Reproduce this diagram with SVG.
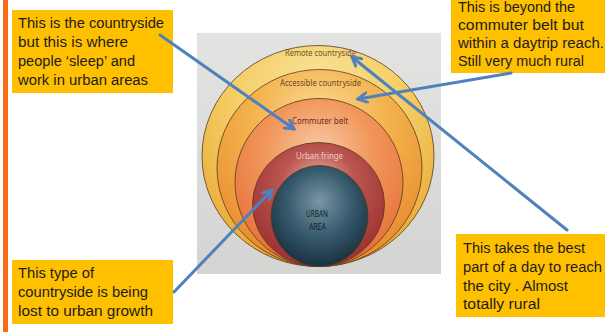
<svg xmlns="http://www.w3.org/2000/svg" width="605" height="332" viewBox="0 0 605 332">
  <style>
    .box { fill: #FFC000; }
    .note { font-family: "Liberation Sans", Arial, sans-serif; font-size: 14px; fill: #1c1c1c; }
    .ring { stroke: #5a3a22; stroke-width: 0.8; }
    .zone { font-family: "Noto Sans", "Open Sans", sans-serif; font-size: 9px; text-anchor: middle; }
    .link { fill: none; stroke: #4F81BD; stroke-width: 3; stroke-linecap: round; }
  </style>
  <defs>
    <linearGradient id="paper" x1="0" y1="0" x2="0" y2="1">
      <stop offset="0" stop-color="#e3e3e1"/>
      <stop offset="1" stop-color="#d4d4d2"/>
    </linearGradient>
    <radialGradient id="gRemote" cx="0.5" cy="0.3" r="0.75" fx="0.5" fy="0.2">
      <stop offset="0" stop-color="#fae6a4"/>
      <stop offset="0.45" stop-color="#f5d06a"/>
      <stop offset="1" stop-color="#e8a52e"/>
    </radialGradient>
    <radialGradient id="gAccess" cx="0.5" cy="0.3" r="0.75" fx="0.5" fy="0.22">
      <stop offset="0" stop-color="#f9d994"/>
      <stop offset="0.45" stop-color="#f3b24c"/>
      <stop offset="1" stop-color="#e8862a"/>
    </radialGradient>
    <radialGradient id="gCommute" cx="0.5" cy="0.35" r="0.72" fx="0.5" fy="0.3">
      <stop offset="0" stop-color="#f8c9a4"/>
      <stop offset="0.45" stop-color="#f1965a"/>
      <stop offset="1" stop-color="#e46a34"/>
    </radialGradient>
    <radialGradient id="gFringe" cx="0.5" cy="0.4" r="0.7" fx="0.5" fy="0.3">
      <stop offset="0" stop-color="#e6b8aa"/>
      <stop offset="0.4" stop-color="#bb5650"/>
      <stop offset="1" stop-color="#922826"/>
    </radialGradient>
    <radialGradient id="gUrban" cx="0.5" cy="0.4" r="0.65" fx="0.5" fy="0.35">
      <stop offset="0" stop-color="#7996a3"/>
      <stop offset="0.5" stop-color="#385c6f"/>
      <stop offset="1" stop-color="#152a37"/>
    </radialGradient>
    <marker id="head" viewBox="0 0 12 12" refX="10" refY="6" markerWidth="12" markerHeight="12" markerUnits="userSpaceOnUse" orient="auto">
      <path d="M1,1 L10,6 L1,11" fill="none" stroke="#4F81BD" stroke-width="3" stroke-linejoin="miter" stroke-linecap="round"/>
    </marker>
  </defs>

  <rect width="605" height="332" fill="#ffffff"/>
  <!-- orange rule down the left edge -->
  <rect x="3" y="0" width="5" height="332" fill="#f96a14"/>

  <!-- concentric zones diagram -->
  <g id="zones">
    <rect x="197" y="33" width="244" height="241" fill="url(#paper)"/>
    <ellipse class="ring" cx="318" cy="156" rx="116" ry="110.5" fill="url(#gRemote)"/>
    <ellipse class="ring" cx="319.5" cy="168" rx="102.5" ry="98.5" fill="url(#gAccess)"/>
    <ellipse class="ring" cx="319" cy="182.5" rx="84" ry="84" fill="url(#gCommute)"/>
    <ellipse class="ring" cx="318.5" cy="204.5" rx="66" ry="62" fill="url(#gFringe)"/>
    <ellipse class="ring" cx="319.5" cy="216" rx="48.5" ry="50.5" fill="url(#gUrban)"/>
    <text class="zone" x="320.5" y="56" fill="#6e5436" textLength="71" lengthAdjust="spacingAndGlyphs">Remote countryside</text>
    <text class="zone" x="320.5" y="86" fill="#6e4628" textLength="81" lengthAdjust="spacingAndGlyphs">Accessible countryside</text>
    <text class="zone" x="320" y="124" fill="#6e2c1e" textLength="56" lengthAdjust="spacingAndGlyphs">Commuter belt</text>
    <text class="zone" x="319.5" y="159" fill="#ecccc2" textLength="47" lengthAdjust="spacingAndGlyphs">Urban fringe</text>
    <text class="zone" x="317" y="217" fill="#0f1c26" textLength="22" lengthAdjust="spacingAndGlyphs">URBAN</text>
    <text class="zone" x="317.5" y="230" fill="#0f1c26" textLength="17" lengthAdjust="spacingAndGlyphs">AREA</text>
  </g>

  <g id="note-commuter">
    <rect class="box" x="12" y="10" width="161" height="83"/>
    <text class="note" x="18" y="28" textLength="146" lengthAdjust="spacingAndGlyphs">This is the countryside</text>
    <text class="note" x="18" y="47" textLength="110" lengthAdjust="spacingAndGlyphs">but this is where</text>
    <text class="note" x="18" y="66" textLength="117" lengthAdjust="spacingAndGlyphs">people ‘sleep’ and</text>
    <text class="note" x="18" y="85" textLength="130" lengthAdjust="spacingAndGlyphs">work in urban areas</text>
  </g>

  <g id="note-accessible">
    <rect class="box" x="451" y="-10" width="154" height="83"/>
    <text class="note" x="458" y="11.5" textLength="117" lengthAdjust="spacingAndGlyphs">This is beyond the</text>
    <text class="note" x="458" y="29.5" textLength="126" lengthAdjust="spacingAndGlyphs">commuter belt but</text>
    <text class="note" x="458" y="47.5" textLength="146" lengthAdjust="spacingAndGlyphs">within a daytrip reach.</text>
    <text class="note" x="458" y="66" textLength="126" lengthAdjust="spacingAndGlyphs">Still very much rural</text>
  </g>

  <g id="note-fringe">
    <rect class="box" x="12" y="260" width="161" height="64"/>
    <text class="note" x="18" y="278" textLength="76" lengthAdjust="spacingAndGlyphs">This type of</text>
    <text class="note" x="18" y="297" textLength="130" lengthAdjust="spacingAndGlyphs">countryside is being</text>
    <text class="note" x="18" y="316" textLength="135" lengthAdjust="spacingAndGlyphs">lost to urban growth</text>
  </g>

  <g id="note-remote">
    <rect class="box" x="456" y="234" width="149" height="83"/>
    <text class="note" x="463" y="253" textLength="122" lengthAdjust="spacingAndGlyphs">This takes the best</text>
    <text class="note" x="463" y="272" textLength="139" lengthAdjust="spacingAndGlyphs">part of a day to reach</text>
    <text class="note" x="463" y="290.5" textLength="105" lengthAdjust="spacingAndGlyphs">the city . Almost</text>
    <text class="note" x="463" y="309" textLength="77" lengthAdjust="spacingAndGlyphs">totally rural</text>
  </g>

  <!-- pointers from each note to its zone -->
  <g id="connectors">
    <line class="link" x1="160" y1="35" x2="294" y2="129" marker-end="url(#head)"/>
    <line class="link" x1="511" y1="73" x2="358" y2="99" marker-end="url(#head)"/>
    <line class="link" x1="567" y1="230" x2="352" y2="57" marker-end="url(#head)"/>
    <line class="link" x1="174" y1="292" x2="272" y2="190" marker-end="url(#head)"/>
  </g>
</svg>
